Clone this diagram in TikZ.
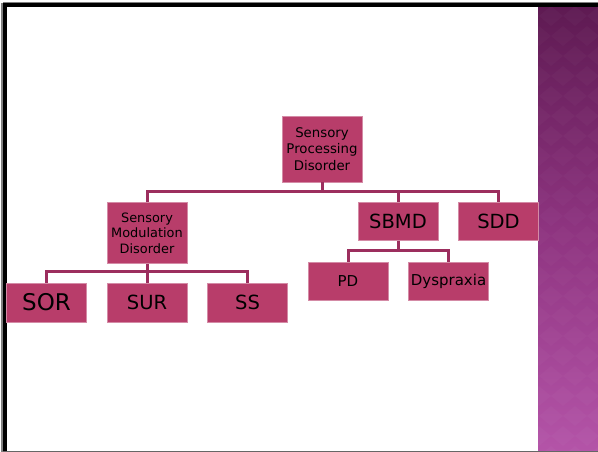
\documentclass[tikz,border=0pt]{standalone}
\usepackage{fontspec}
\setmainfont{DejaVu Sans}
\usepackage{tikz}
\usetikzlibrary{positioning, calc}
\usepackage{xcolor}
\definecolor{boxred}{RGB}{184,61,106}
\definecolor{linkred}{RGB}{156,46,94}
\definecolor{striptop}{RGB}{94,26,82}
\definecolor{stripmid}{RGB}{142,52,128}
\definecolor{stripbot}{RGB}{180,84,168}
\tikzstyle{box} = [rectangle, minimum width=80pt, minimum height=38pt, inner sep=1pt, text centered, align=center, draw=boxred!60!white, line width=0.5pt, fill=boxred, text=black]
\tikzstyle{link} = [line width=3pt, draw=linkred]

\begin{document}
\begin{tikzpicture}[x=1pt, y=-1pt]
  \useasboundingbox (0,0) rectangle (598,452);
  \fill[white] (0,0) rectangle (598,452);

  % Side strip
  \shade[top color=striptop, bottom color=stripbot, middle color=stripmid] (538,6) rectangle (598,452);
  \begin{scope}
    \clip (538,6) rectangle (598,452);
    \foreach \r in {0,...,23}{
      \foreach \c in {0,...,4}{
        \fill[white, opacity=0.025] ({527+\c*24+mod(\r,2)*12},{6+\r*20}) -- ++(12,10) -- ++(-12,10) -- ++(-12,-10) -- cycle;
      }
    }
  \end{scope}

  % Frame
  \draw[line width=1pt, gray] (3,2.8) -- (598,2.8);
  \draw[line width=2.3pt, gray] (2.2,3) -- (2.2,452);
  \draw[line width=3.4pt, black] (3.3,5) -- (598,5);
  \draw[line width=3.4pt, black] (5,3.3) -- (5,452);
  \draw[line width=1.5pt, gray!80!black] (3,451.5) -- (598,451.5);

  % Root
  \node[box, minimum height=66pt, font=\fontsize{13.3}{16.5}\selectfont] (spd) at (322,149) {Sensory\\Processing\\Disorder};

  % Second level
  \node[box, minimum height=61pt, font=\fontsize{12.9}{15.5}\selectfont, below=20pt of spd, xshift=-175pt] (smd) {Sensory\\Modulation\\Disorder};
  \node[box, font=\fontsize{19.5}{22}\selectfont, below=20pt of spd, xshift=76pt] (sbmd) {SBMD};
  \node[box, font=\fontsize{19.5}{22}\selectfont, right=20pt of sbmd] (sdd) {SDD};

  % Third level
  \node[box, minimum height=39pt, font=\fontsize{19.5}{22}\selectfont, below=19pt of smd] (sur) {SUR};
  \node[box, minimum height=39pt, font=\fontsize{23}{26}\selectfont, left=20pt of sur] (sor) {SOR};
  \node[box, minimum height=39pt, font=\fontsize{19.5}{22}\selectfont, right=20pt of sur] (ss) {SS};
  \node[box, font=\fontsize{15}{18}\selectfont, below=21pt of sbmd, xshift=-50pt] (pd) {PD};
  \node[box, font=\fontsize{15}{18}\selectfont, right=20pt of pd] (dysp) {Dyspraxia};

  % Links
  \draw[link] (spd.south) -- ++(0,9) coordinate (b1);
  \draw[link] (smd.north) |- (b1) -| (sdd.north);
  \draw[link] (sbmd.north) -- (sbmd.north |- b1);
  \draw[link] (smd.south) -- ++(0,8) coordinate (b2);
  \draw[link] (sor.north) |- (b2) -| (ss.north);
  \draw[link] (sur.north) -- (b2);
  \draw[link] (sbmd.south) -- ++(0,10) coordinate (b3);
  \draw[link] (pd.north) |- (b3) -| (dysp.north);
\end{tikzpicture}
\end{document}
